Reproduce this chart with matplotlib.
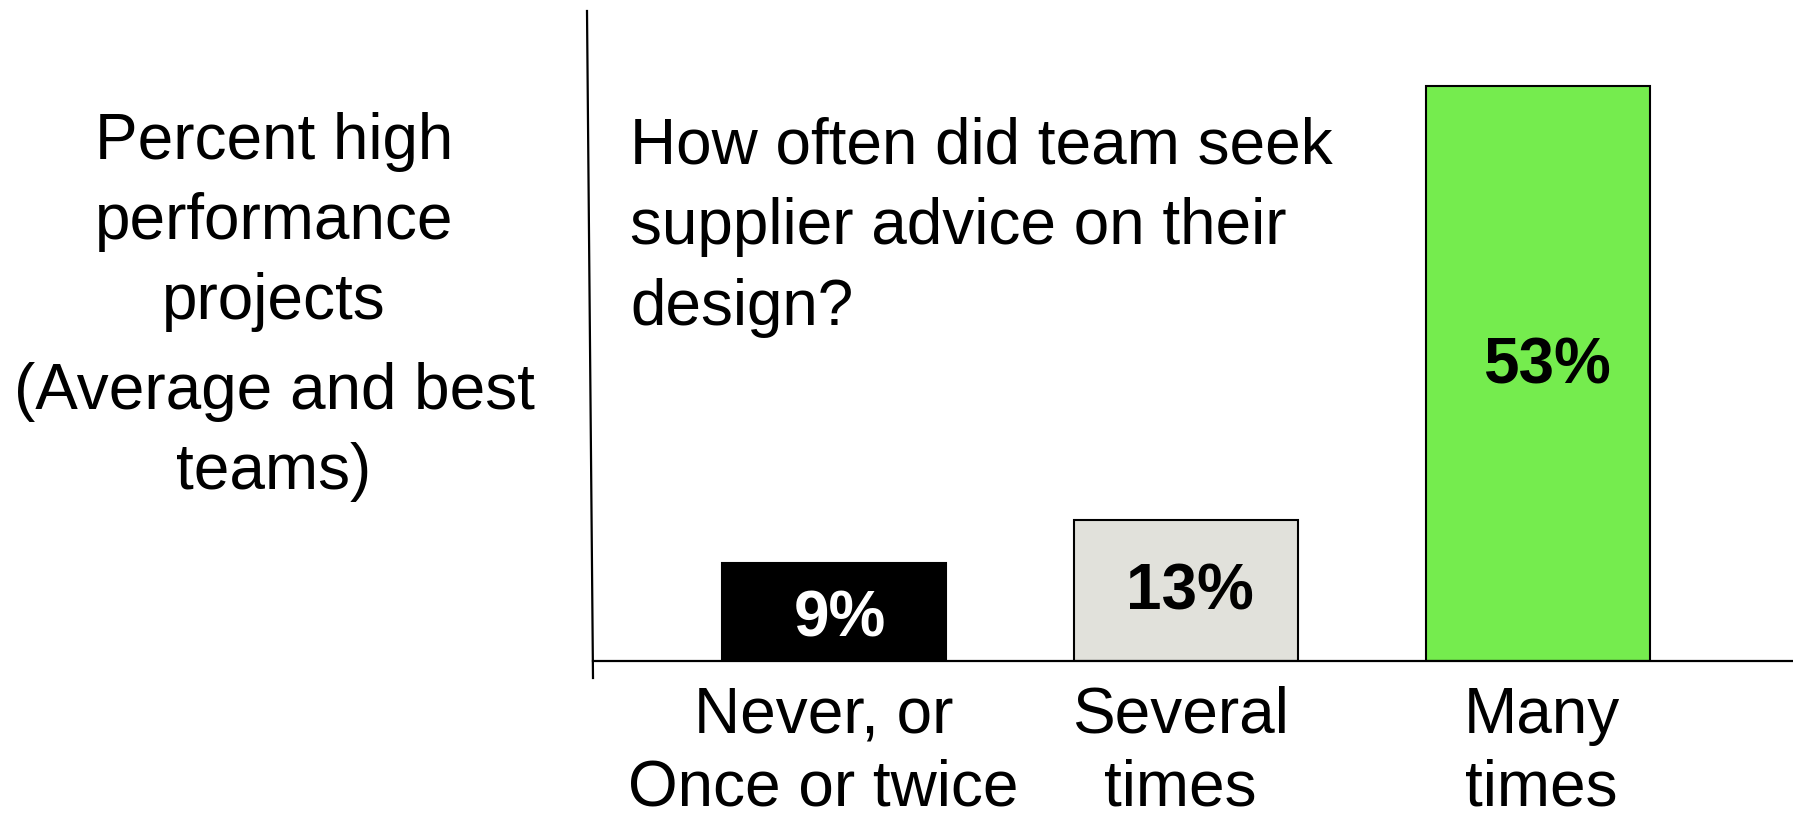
import numpy as np
import matplotlib.pyplot as plt
from matplotlib.lines import Line2D

plt.rcParams['font.family'] = ['Liberation Sans', 'DejaVu Sans']

# data
categories = ["Never, or\nOnce or twice", "Several\ntimes", "Many\ntimes"]
values = [9, 13, 53]
labels = ["9%", "13%", "53%"]
colors = ["#000000", "#E1E1DB", "#75EC4E"]
label_colors = ["white", "black", "black"]

W, H = 1793, 813
fig = plt.figure(figsize=(W / 100, H / 100), dpi=100, facecolor='w')

# axes in pixel terms: baseline at y=661, left at x=593
px_per_pct = 10.85
ax_bottom = 661
ax_top = 11
ax = fig.add_axes([593 / W, 1 - ax_bottom / H, 1 - 593 / W, (ax_bottom - ax_top) / H])
unit = 352.0  # px between bar centres
x = np.arange(len(values))
ax.bar(x, values, width=224 / unit, color=colors, edgecolor='black', linewidth=1.5, zorder=2)
ax.set_xlim(-241 / unit, (W - 593) / unit - 241 / unit)
ax.set_ylim(0, (ax_bottom - ax_top) / px_per_pct)
ax.axis('off')

# small nudges so the labels sit where the original put them
dx = [0.017, 0.01, 0.025]
dy = [-0.7, -0.2, 0.6]
for i, v in enumerate(values):
    ax.text(x[i] + dx[i], v / 2 + dy[i], labels[i], ha='center', va='center', fontsize=46,
            fontweight='bold', color=label_colors[i], zorder=3)

cdx = [-0.03, -0.015, 0.01]
for i, c in enumerate(categories):
    ax.text(x[i] + cdx[i], -2.3, c, ha='center', va='top', fontsize=46, linespacing=1.26)

# axis lines (vertical one is slightly slanted)
fig.add_artist(Line2D([587 / W, 593 / W], [1 - 11 / H, 1 - 678 / H], color='black', lw=1.6))
fig.add_artist(Line2D([593 / W, 1.0], [1 - 661 / H, 1 - 661 / H], color='black', lw=1.6))

fig.text(630 / W, 1 - 116 / H, "How often did team seek\nsupplier advice on their\ndesign?",
         ha='left', va='top', fontsize=46, linespacing=1.45)
fig.text(274 / W, 1 - 112 / H, "Percent high\nperformance\nprojects",
         ha='center', va='top', fontsize=46, linespacing=1.43)
fig.text(274 / W, 1 - 362 / H, "(Average and best\nteams)",
         ha='center', va='top', fontsize=46, linespacing=1.43)

fig.savefig("out.png", dpi=100)
